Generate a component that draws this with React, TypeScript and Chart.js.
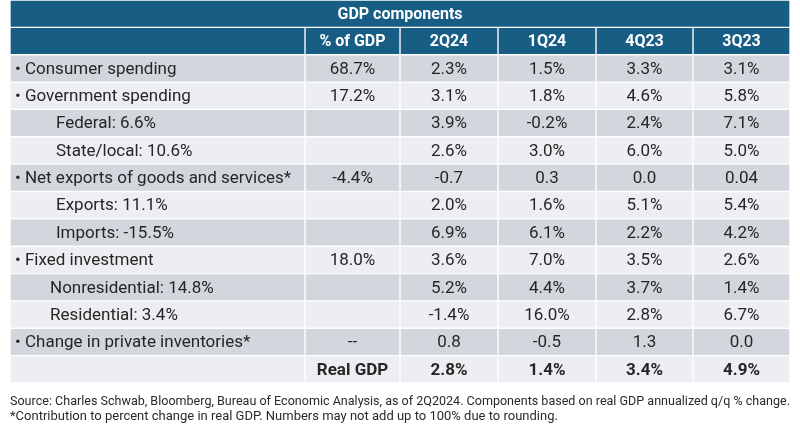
import React, { useEffect, useRef } from "react";
import { Chart, registerables } from "chart.js";

Chart.register(...registerables);

const TITLE = "GDP components";
const COLUMN_HEADERS = ["", "% of GDP", "2Q24", "1Q24", "4Q23", "3Q23"];
const ROW_LABELS = [
  "• Consumer spending",
  "• Government spending",
  "Federal: 6.6%",
  "State/local: 10.6%",
  "• Net exports of goods and services*",
  "Exports: 11.1%",
  "Imports: -15.5%",
  "• Fixed investment",
  "Nonresidential: 14.8%",
  "Residential: 3.4%",
  "• Change in private inventories*",
  "",
];
const SHARE_OF_GDP = ["68.7%", "17.2%", "", "", "-4.4%", "", "", "18.0%", "", "", "--", "Real GDP"];
const Q2_24 = ["2.3%", "3.1%", "3.9%", "2.6%", "-0.7", "2.0%", "6.9%", "3.6%", "5.2%", "-1.4%", "0.8", "2.8%"];
const Q1_24 = ["1.5%", "1.8%", "-0.2%", "3.0%", "0.3", "1.6%", "6.1%", "7.0%", "4.4%", "16.0%", "-0.5", "1.4%"];
const Q4_23 = ["3.3%", "4.6%", "2.4%", "6.0%", "0.0", "5.1%", "2.2%", "3.5%", "3.7%", "2.8%", "1.3", "3.4%"];
const Q3_23 = ["3.1%", "5.8%", "7.1%", "5.0%", "0.04", "5.4%", "4.2%", "2.6%", "1.4%", "6.7%", "0.0", "4.9%"];
const FOOTNOTES = [
  "Source: Charles Schwab, Bloomberg, Bureau of Economic Analysis, as of 2Q2024. Components based on real GDP annualized q/q % change.",
  "*Contribution to percent change in real GDP. Numbers may not add up to 100% due to rounding.",
];

// layout / style
const COL_WIDTHS = [295, 95, 98, 98, 97, 97];
const SUB_INDENT = [0, 0, 1, 1, 0, 1, 1, 0, 2, 2, 0, 0];
const HEADER_BG = "#175d84";
const DARK_ROW = "#d2d7de";
const LIGHT_ROW = "#eceef1";
const TEXT = "#262626";
const FONT = "Roboto, 'Noto Sans', sans-serif";

export default function App() {
  const ref = useRef<HTMLCanvasElement | null>(null);

  useEffect(() => {
    if (!ref.current) return;
    const colEdges: number[] = [0];
    COL_WIDTHS.forEach((w) => colEdges.push(colEdges[colEdges.length - 1] + w));
    const total = colEdges[colEdges.length - 1];

    const yLabels = ["title", "header", ...ROW_LABELS.map((_, i) => "r" + i)];
    const dataCols = [SHARE_OF_GDP, Q2_24, Q1_24, Q4_23, Q3_23];

    const rowColor = (r: number) => {
      if (r < 2) return HEADER_BG;
      return (r - 2) % 2 === 0 ? DARK_ROW : LIGHT_ROW;
    };

    const datasets = COL_WIDTHS.map((_, c) => ({
      label: "col" + c,
      data: yLabels.map((_, r) => {
        if (r === 0) return c === 0 ? [0, total] : null;
        return [colEdges[c], colEdges[c + 1]];
      }),
      backgroundColor: yLabels.map((_, r) => rowColor(r)),
      borderColor: "#ffffff",
      borderWidth: 1,
      borderSkipped: false,
      grouped: false,
      barPercentage: 1,
      categoryPercentage: 1,
    }));

    const textPlugin = {
      id: "tableText",
      afterDatasetsDraw(chart: any) {
        const ctx = chart.ctx as CanvasRenderingContext2D;
        const xs = chart.scales.x;
        const ys = chart.scales.y;
        ctx.save();
        ctx.textBaseline = "middle";
        // title
        ctx.fillStyle = "#ffffff";
        ctx.font = `bold 16px ${FONT}`;
        ctx.textAlign = "center";
        ctx.fillText(TITLE, xs.getPixelForValue(total / 2), ys.getPixelForValue(0) + 1);
        // column headers
        COLUMN_HEADERS.forEach((h, c) => {
          if (!h) return;
          ctx.fillText(h, xs.getPixelForValue((colEdges[c] + colEdges[c + 1]) / 2), ys.getPixelForValue(1) + 1);
        });
        // rows
        ROW_LABELS.forEach((label, i) => {
          const y = ys.getPixelForValue(i + 2) + 1;
          const bold = i === ROW_LABELS.length - 1;
          ctx.fillStyle = TEXT;
          ctx.font = `17px ${FONT}`;
          ctx.textAlign = "left";
          const indent = SUB_INDENT[i] === 1 ? 46 : SUB_INDENT[i] === 2 ? 40 : 5;
          if (label) ctx.fillText(label, xs.getPixelForValue(0) + indent, y);
          ctx.textAlign = "center";
          ctx.font = `${bold ? "bold " : ""}17px ${FONT}`;
          dataCols.forEach((col, c) => {
            const v = col[i];
            if (!v) return;
            ctx.fillText(v, xs.getPixelForValue((colEdges[c + 1] + colEdges[c + 2]) / 2), y);
          });
        });
        // footnotes
        ctx.fillStyle = "#2a2a2a";
        ctx.font = `13px ${FONT}`;
        ctx.textAlign = "left";
        const bottom = chart.chartArea.bottom;
        FOOTNOTES.forEach((t, k) => {
          ctx.fillText(t, xs.getPixelForValue(0), bottom + 19 + k * 15, total);
        });
        ctx.restore();
      },
    };

    const chart = new Chart(ref.current, {
      type: "bar",
      data: { labels: yLabels, datasets: datasets as any },
      options: {
        indexAxis: "y",
        responsive: false,
        animation: false,
        devicePixelRatio: 1,
        layout: { padding: { left: 10, right: 10, top: 0, bottom: 44 } },
        plugins: { legend: { display: false }, tooltip: { enabled: false }, title: { display: false } },
        scales: {
          x: { type: "linear", min: 0, max: total, display: false },
          y: { type: "category", display: false, offset: true },
        },
      },
      plugins: [textPlugin],
    });
    return () => chart.destroy();
  }, []);

  return (
    <div style={{ position: "absolute", left: 0, top: 0, width: 800, height: 427, background: "#fff" }}>
      <canvas ref={ref} width={800} height={427} />
    </div>
  );
}
